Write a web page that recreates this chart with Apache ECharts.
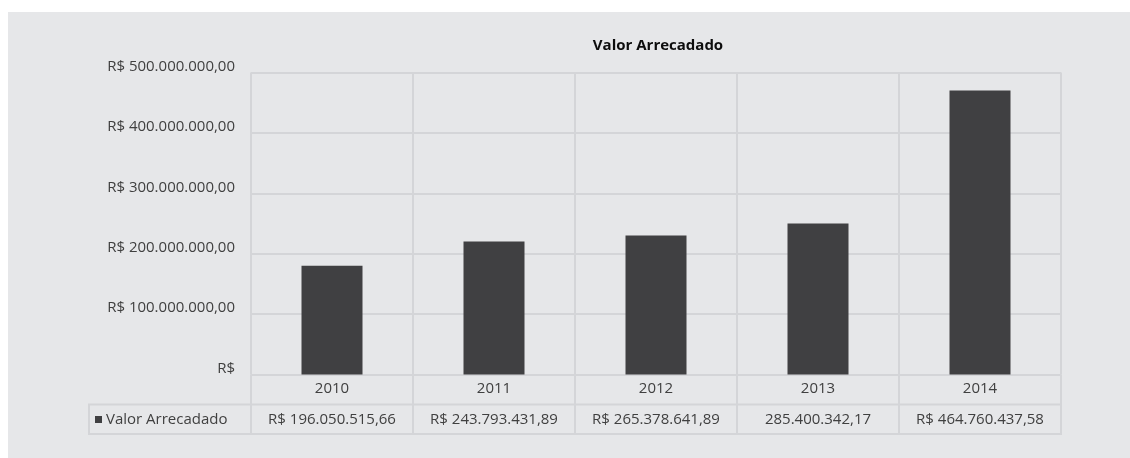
<!DOCTYPE html>
<html>
<head>
<meta charset="utf-8">
<script src="https://cdn.jsdelivr.net/npm/echarts@6/dist/echarts.min.js"></script>
<style>
  html, body { margin: 0; padding: 0; background: #ffffff; }
  #chart { position: absolute; left: 8px; top: 12px; width: 1122px; height: 446px; }
</style>
</head>
<body>
<div id="chart"></div>
<script>
const anos = ['2010', '2011', '2012', '2013', '2014']
// bar heights as drawn in the picture
const valores = [180000000, 220000000, 230000000, 250000000, 470000000]
// values printed in the data table
const tabela = ['R$ 196.050.515,66', 'R$ 243.793.431,89', 'R$ 265.378.641,89', '285.400.342,17', 'R$ 464.760.437,58']
const serieNome = 'Valor Arrecadado'

const gridCor = '#d4d5d8'
const textoCor = '#404040'
const fonte = 'Open Sans'
const tam = 15

const fmtReal = (v) => {
  if (v === 0) return 'R$'
  const s = String(Math.round(v)).replace(/\B(?=(\d{3})+(?!\d))/g, '.')
  return 'R$ ' + s + ',00'
}

const chart = echarts.init(document.getElementById('chart'))

const option = {
  backgroundColor: '#e6e7e9',
  animation: false,
  textStyle: { fontFamily: fonte },
  title: {
    text: 'Valor Arrecadado',
    left: 645,
    textAlign: 'center',
    top: 21,
    textStyle: { fontSize: 15, fontWeight: 'bold', color: '#0d0d0d', fontFamily: fonte }
  },
  legend: {
    data: [serieNome],
    left: 87,
    top: 400,
    padding: 0,
    icon: 'rect',
    itemWidth: 7,
    itemHeight: 7,
    textStyle: { fontSize: tam, color: textoCor, fontFamily: fonte, padding: [0, 0, 0, -1] }
  },
  grid: {
    left: 243,
    top: 60.5,
    width: 810,
    height: 302,
    containLabel: false
  },
  xAxis: [
    {
      type: 'category',
      data: anos,
      axisLine: { show: false },
      axisTick: {
        show: true,
        length: 60,
        interval: 0,
        lineStyle: { color: gridCor, width: 2 }
      },
      splitLine: {
        show: true,
        interval: 0,
        lineStyle: { color: gridCor, width: 2 }
      },
      axisLabel: { margin: 7, fontSize: tam, color: textoCor, fontFamily: fonte }
    },
    {
      type: 'category',
      data: tabela,
      position: 'bottom',
      offset: 30,
      axisLine: { show: false },
      axisTick: { show: false },
      axisLabel: { margin: 8, fontSize: tam, color: textoCor, fontFamily: fonte, interval: 0 }
    }
  ],
  yAxis: {
    type: 'value',
    min: 0,
    max: 500000000,
    interval: 100000000,
    axisLine: { show: false },
    axisTick: { show: false },
    splitLine: { lineStyle: { color: gridCor, width: 2 } },
    axisLabel: {
      margin: 16,
      fontSize: tam,
      color: textoCor,
      fontFamily: fonte,
      verticalAlign: 'bottom',
      lineHeight: 12,
      formatter: fmtReal
    }
  },
  graphic: [
    {
      type: 'rect',
      silent: true,
      shape: { x: 81, y: 392.5, width: 972, height: 29.5 },
      style: { fill: 'none', stroke: gridCor, lineWidth: 2 }
    }
  ],
  series: [
    {
      name: serieNome,
      type: 'bar',
      data: valores,
      barWidth: 61,
      itemStyle: { color: '#404042' }
    }
  ]
}

chart.setOption(option)
</script>
</body>
</html>
